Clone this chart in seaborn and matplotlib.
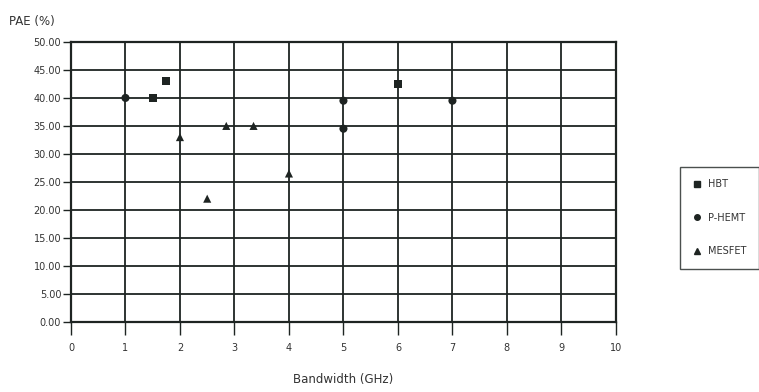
import matplotlib
matplotlib.use("Agg")
import matplotlib.pyplot as plt
import seaborn as sns
import pandas as pd

hbt_x = [1.5, 1.75, 6.0]
hbt_y = [40.0, 43.0, 42.5]
phemt_x = [1.0, 5.0, 5.0, 7.0]
phemt_y = [40.0, 39.5, 34.5, 39.5]
mesfet_x = [2.0, 2.5, 2.85, 3.35, 4.0]
mesfet_y = [33.0, 22.0, 35.0, 35.0, 26.5]
series_names = ["HBT", "P-HEMT", "MESFET"]
x_ticks = list(range(0, 11))
y_ticks = [0, 5, 10, 15, 20, 25, 30, 35, 40, 45, 50]

rows = []
for name, xs, ys in zip(series_names, [hbt_x, phemt_x, mesfet_x], [hbt_y, phemt_y, mesfet_y]):
    for xv, yv in zip(xs, ys):
        rows.append({"Bandwidth": xv, "PAE": yv, "Device": name})
df = pd.DataFrame(rows)

sns.set_theme(style="white")
plt.rcParams['font.family'] = ['DejaVu Sans']
ink = "#1e2422"

fig = plt.figure(figsize=(7.59, 3.92), dpi=100)
ax = fig.add_axes([0.0935, 0.179, 0.718, 0.714])

sns.scatterplot(data=df, x="Bandwidth", y="PAE", hue="Device", style="Device",
                hue_order=series_names, style_order=series_names,
                markers={"HBT": "s", "P-HEMT": "o", "MESFET": "^"},
                palette={n: ink for n in series_names}, s=34, edgecolor=ink,
                linewidth=0, ax=ax, legend=False, zorder=5)

ax.set_xlim(0, 10)
ax.set_ylim(0, 50)
ax.set_xticks(x_ticks)
ax.set_xticklabels([str(t) for t in x_ticks])
ax.set_yticks(y_ticks)
ax.set_yticklabels([f"{t:.2f}" for t in y_ticks])
ax.grid(True, color=ink, linewidth=1.3)
ax.set_axisbelow(True)
for sp in ax.spines.values():
    sp.set_color(ink)
    sp.set_linewidth(1.6)
ax.tick_params(axis="x", direction="out", length=9, width=1.0, color=ink,
               labelsize=7, labelcolor="#333333", pad=6, bottom=True)
ax.tick_params(axis="y", direction="out", length=6, width=1.0, color=ink,
               labelsize=7, labelcolor="#333333", pad=1, left=True)
ax.set_xlabel("Bandwidth (GHz)", fontsize=8.5, color="#333333", labelpad=15)
ax.set_ylabel("")
fig.text(0.012, 0.945, "PAE (%)", fontsize=8.5, color="#333333", ha="left", va="center")

from matplotlib.lines import Line2D
handles = [Line2D([], [], marker=m, linestyle="none", color=ink, markersize=4)
           for m in ["s", "o", "^"]]
leg = fig.legend(handles, series_names, loc="upper left", bbox_to_anchor=(0.889, 0.587),
                 fontsize=7, frameon=True, fancybox=False, labelspacing=2.4,
                 handletextpad=0.6, handlelength=1.0, borderpad=1.3,
                 edgecolor=ink, labelcolor="#333333")
leg.get_frame().set_linewidth(1.0)

fig.savefig("out.png", dpi=100)
